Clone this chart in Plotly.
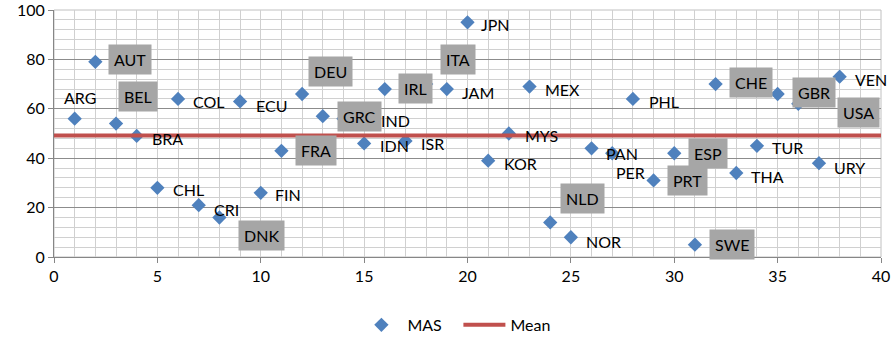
import plotly.graph_objects as go

# ---- data ----
countries = ["ARG", "AUT", "BEL", "BRA", "CHL", "COL", "CRI", "DNK", "ECU", "FIN",
             "FRA", "DEU", "GRC", "IND", "IDN", "IRL", "ISR", "ITA", "JAM", "JPN",
             "KOR", "MYS", "MEX", "NLD", "NOR", "PAN", "PER", "PHL", "PRT", "ESP",
             "SWE", "CHE", "THA", "TUR", "GBR", "USA", "URY", "VEN"]
index = list(range(1, len(countries) + 1))
mas = [56, 79, 54, 49, 28, 64, 21, 16, 63, 26,
       43, 66, 57, 56, 46, 68, 47, 70, 68, 95,
       39, 50, 69, 14, 8, 44, 42, 64, 31, 42,
       5, 70, 34, 45, 66, 62, 38, 73]
mean_x = [0, 40]
mean_value = sum(mas) / len(mas)
x_ticks = [0, 5, 10, 15, 20, 25, 30, 35, 40]
y_ticks = [0, 20, 40, 60, 80, 100]

# ---- label placement (pixel offsets from each point) and boxed labels ----
label_offsets = {
    "ARG": (5, 21), "AUT": (35, 2), "BEL": (22, 27), "BRA": (31, -3), "CHL": (31, -2),
    "COL": (31, -3), "CRI": (28, -4), "DNK": (42, -18), "ECU": (31, -4), "FIN": (27, -2),
    "FRA": (35, 0), "DEU": (28, 22), "GRC": (37, 0), "IND": (52, -2), "IDN": (30, -2),
    "IRL": (31, 1), "ISR": (27, -3), "ITA": (32, 25), "JAM": (31, -3), "JPN": (28, -2),
    "KOR": (32, -3), "MYS": (33, -2), "MEX": (33, -3), "NLD": (32, 24), "NOR": (33, -4),
    "PAN": (30, -5), "PER": (18, -19), "PHL": (31, -3), "PRT": (34, 0), "ESP": (34, 0),
    "SWE": (37, 0), "CHE": (35, 2), "THA": (31, -3), "TUR": (31, -2), "GBR": (36, 1),
    "USA": (60, -9), "URY": (31, -4), "VEN": (31, -3),
}
boxed = {"AUT", "BEL", "DNK", "FRA", "DEU", "GRC", "IRL", "ITA", "NLD", "PRT",
         "ESP", "SWE", "CHE", "GBR", "USA"}

FONT = "Lato"
fig = go.Figure()
fig.add_trace(go.Scatter(
    x=index, y=mas, mode="markers", name="MAS",
    marker=dict(symbol="diamond", size=11, color="#4f81bd"),
))
fig.add_trace(go.Scatter(
    x=mean_x, y=[mean_value] * len(mean_x), mode="lines", name="Mean",
    line=dict(color="#c0504d", width=4),
))

for c, xv, yv in zip(countries, index, mas):
    dx, dy = label_offsets[c]
    ann = dict(x=xv, y=yv, xref="x", yref="y", text=c, showarrow=False,
               xshift=dx, yshift=dy, font=dict(family=FONT, size=16, color="#000000"))
    if c in boxed:
        ann.update(bgcolor="#a6a6a6", borderpad=5)
    fig.add_annotation(**ann)

# light plot-area frame (top and right edges)
fig.add_shape(type="rect", xref="paper", yref="paper", x0=0, x1=1, y0=0, y1=1,
              line=dict(color="#c0c0c0", width=1), layer="below")

fig.update_layout(
    width=894, height=338,
    margin=dict(l=54, r=13, t=10, b=81, autoexpand=False),
    paper_bgcolor="white", plot_bgcolor="white",
    font=dict(family=FONT, size=16, color="#000000"),
    showlegend=True,
    legend=dict(orientation="h", x=0.489, xanchor="center", y=-0.275, yanchor="middle",
                font=dict(family=FONT, size=16), itemwidth=42, tracegroupgap=0,
                entrywidth=46, entrywidthmode="pixels"),
    xaxis=dict(range=[0, 40], tickvals=x_ticks, showgrid=True, gridcolor="#d0d0d0", gridwidth=1,
               minor=dict(dtick=1, showgrid=True, gridcolor="#d0d0d0", gridwidth=1),
               zeroline=False, showline=True, linecolor="#868686", linewidth=1,
               ticks="outside", ticklen=5, tickcolor="#868686", automargin=False,
               ticklabeloverflow="allow", tickfont=dict(family=FONT, size=16)),
    yaxis=dict(range=[0, 100], tickvals=y_ticks, showgrid=True, gridcolor="#8c8c8c", gridwidth=1,
               minor=dict(dtick=4, showgrid=True, gridcolor="#d0d0d0", gridwidth=1),
               zeroline=False, showline=True, linecolor="#868686", linewidth=1,
               ticks="outside", ticklen=5, tickcolor="#868686", automargin=False,
               ticklabeloverflow="allow", tickfont=dict(family=FONT, size=16)),
)

fig.write_html("out.html", config={"displayModeBar": False},
               post_script="document.body.style.margin='0';document.body.style.overflow='hidden';")
